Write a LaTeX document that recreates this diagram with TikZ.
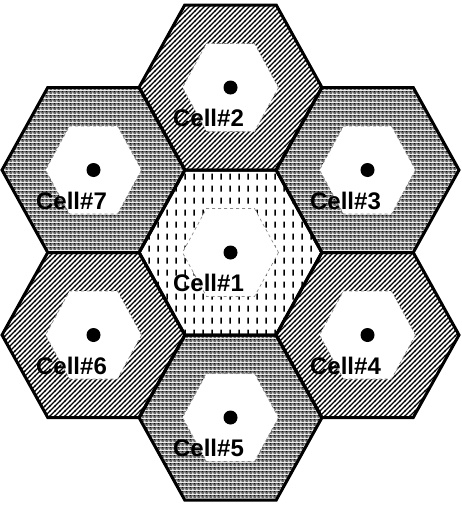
\documentclass[tikz,border=0pt]{standalone}
\usepackage{fontspec}
\setsansfont{Liberation Sans}
\usetikzlibrary{patterns}
\definecolor{rim}{HTML}{8C8C8C}
\definecolor{dotgray}{HTML}{6A6A6A}
\pgfdeclarepatternformonly{cellhatch}{\pgfqpoint{-1pt}{-1pt}}{\pgfqpoint{6pt}{6pt}}{\pgfqpoint{5pt}{5pt}}{%
  \pgfsetlinewidth{1.3pt}\pgfpathmoveto{\pgfqpoint{-0.5pt}{-0.5pt}}\pgfpathlineto{\pgfqpoint{5.5pt}{5.5pt}}\pgfusepath{stroke}}
\pgfdeclarepatternformonly{celldash}{\pgfqpoint{0pt}{0pt}}{\pgfqpoint{8.5pt}{12pt}}{\pgfqpoint{8.5pt}{12pt}}{%
  \pgfpathrectangle{\pgfqpoint{3.5pt}{2.5pt}}{\pgfqpoint{1.6pt}{6.5pt}}\pgfusepath{fill}}
\pgfdeclarepatterninherentlycolored{celldots}{\pgfqpoint{0pt}{0pt}}{\pgfqpoint{4pt}{4pt}}{\pgfqpoint{4pt}{4pt}}{%
  \pgfsetfillcolor{dotgray}\pgfpathrectangle{\pgfqpoint{0pt}{0pt}}{\pgfqpoint{4pt}{4pt}}\pgfusepath{fill}%
  \pgfsetfillcolor{white}\pgfpathcircle{\pgfqpoint{1pt}{1pt}}{1pt}\pgfusepath{fill}%
  \pgfsetfillcolor{black}\pgfpathcircle{\pgfqpoint{3pt}{3pt}}{0.8pt}\pgfusepath{fill}}
\newcommand{\hexagon}[2]{(#1,0) -- (#1/2,#2) -- (-#1/2,#2) -- (-#1,0) -- (-#1/2,-#2) -- (#1/2,-#2) -- cycle}

\begin{document}
\begin{tikzpicture}[x=1pt,y=-1pt,line join=miter]
  \useasboundingbox (0,0) rectangle (461,506);
  \foreach \n/\x/\y in {1/230.5/252.5,2/230.5/87.5,3/367.5/170,4/367.5/335,5/230.5/417.5,6/93.5/335,7/93.5/170}{\coordinate (c\n) at (\x,\y);}
  \foreach \n/\p in {1/celldash,2/cellhatch,3/celldots,4/cellhatch,5/celldots,6/cellhatch,7/celldots}{\fill[pattern=\p,shift={(c\n)}] \hexagon{91.5}{82.5};}
  \foreach \n in {1,...,7}{\filldraw[fill=white,draw=rim,dashed,line width=0.7pt,shift={(c\n)}] \hexagon{48}{44};}
  \foreach \n in {1,...,7}{\draw[line width=3pt,shift={(c\n)}] \hexagon{91.5}{82.5};}
  \foreach \n in {1,...,7}{\node[circle,fill=black,inner sep=0pt,minimum size=14pt] (d\n) at (c\n) {};}
  \foreach \n in {1,...,7}{\node[anchor=base,inner sep=0pt,xshift=-22pt,yshift=-39pt,font=\sffamily\bfseries\fontsize{24}{24}\selectfont] (l\n) at (c\n) {Cell\#\n};}
\end{tikzpicture}
\end{document}
